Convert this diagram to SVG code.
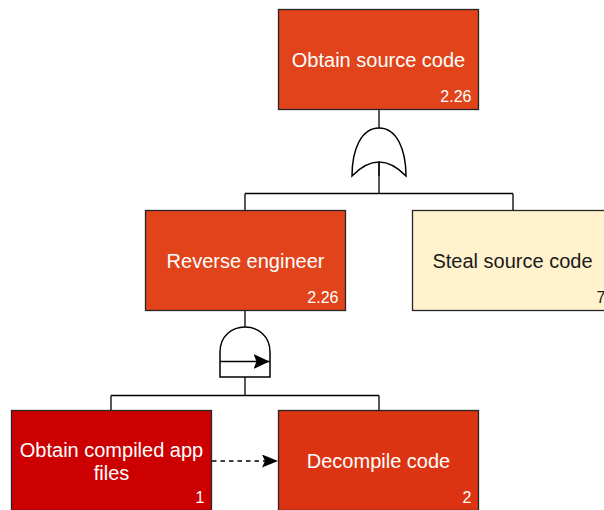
<svg xmlns="http://www.w3.org/2000/svg" width="604" height="510" viewBox="0 0 604 510">
  <style>
    .box { stroke: #262626; stroke-width: 1.3; }
    .lbl { font-family: "Liberation Sans", Arial, sans-serif; font-size: 20px; text-anchor: middle; }
    .num { font-family: "Liberation Sans", Arial, sans-serif; font-size: 16px; text-anchor: end; }
    .light { fill: #ffffff; }
    .dark { fill: #1a1a1a; }
    .wire { fill: none; stroke: #000; stroke-width: 1.3; }
    .gate { fill: #ffffff; stroke: #000; stroke-width: 1.5; }
  </style>
  <defs>
    <marker id="arrow" viewBox="0 0 16 13" refX="16" refY="6.5" markerWidth="16" markerHeight="13" markerUnits="userSpaceOnUse" orient="auto">
      <path d="M0,0 L16,6.5 L0,13 L3,6.5 Z" fill="#000"/>
    </marker>
    <marker id="arrowBig" viewBox="0 0 16 15" refX="16" refY="7.5" markerWidth="16" markerHeight="15" markerUnits="userSpaceOnUse" orient="auto">
      <path d="M0,0 L16,7.5 L0,15 L3,7.5 Z" fill="#000"/>
    </marker>
  </defs>

  <!-- connectors -->
  <g id="connectors">
    <path class="wire" d="M379,110 V193.5"/>
    <path class="wire" d="M245,193.5 H513 M245,193.5 V210.5 M513,193.5 V210.5"/>
    <path class="wire" d="M245,310.5 V395.5"/>
    <path class="wire" d="M111,395.5 H379 M111,395.5 V410.5 M379,395.5 V410.5"/>
    <path class="wire" d="M212,461 H278" stroke-dasharray="4.5 4" marker-end="url(#arrow)" stroke-width="1.8"/>
  </g>

  <!-- OR gate under the top event -->
  <g id="or-gate">
    <path class="gate" d="M352,176 C352,150 361,128 379,128 C397,128 406,150 406,176 Q379,148 352,176 Z"/>
    <path class="wire" d="M379,162 V176"/>
  </g>

  <!-- priority AND gate under reverse engineering -->
  <g id="pand-gate">
    <path class="gate" d="M220,377 L220,352 C220,336 232,327 245,327 C258,327 270,336 270,352 L270,377 Z"/>
    <path class="wire" d="M220,361.5 H269.5" stroke-width="1.8" marker-end="url(#arrowBig)"/>
  </g>

  <g id="obtain-source-code">
    <rect class="box" x="278.5" y="9.5" width="200" height="100" fill="#E1431A"/>
    <text class="lbl light" x="378.5" y="66.7">Obtain source code</text>
    <text class="num light" x="471.5" y="102">2.26</text>
  </g>

  <g id="reverse-engineer">
    <rect class="box" x="145.5" y="210.5" width="200" height="100" fill="#E1431A"/>
    <text class="lbl light" x="245.5" y="267.7">Reverse engineer</text>
    <text class="num light" x="338.5" y="303">2.26</text>
  </g>

  <g id="steal-source-code">
    <rect class="box" x="412.5" y="210.5" width="200" height="100" fill="#FFF2CC"/>
    <text class="lbl dark" x="512.5" y="268">Steal source code</text>
    <text class="num dark" x="605.5" y="303">7</text>
  </g>

  <g id="obtain-compiled-app-files">
    <rect class="box" x="11.5" y="410.5" width="200" height="100" fill="#CC0000"/>
    <text class="lbl light" x="111.5" y="456.7">Obtain compiled app</text>
    <text class="lbl light" x="111.5" y="480">files</text>
    <text class="num light" x="204.5" y="503">1</text>
  </g>

  <g id="decompile-code">
    <rect class="box" x="278.5" y="410.5" width="200" height="100" fill="#DC3412"/>
    <text class="lbl light" x="378.5" y="468.3">Decompile code</text>
    <text class="num light" x="471.5" y="503">2</text>
  </g>
</svg>
